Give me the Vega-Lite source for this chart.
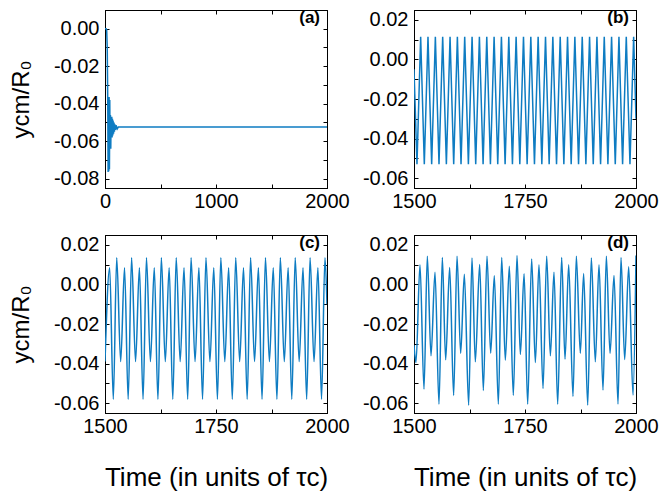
{
  "$schema": "https://vega.github.io/schema/vega-lite/v6.json",
  "padding": {"left": 8, "top": 8, "right": 5, "bottom": 5},
  "background": "white",
  "spacing": 21,
  "config": {
    "font": "Liberation Sans",
    "view": {"stroke": "black", "strokeWidth": 1},
    "axis": {
      "labelFont": "Liberation Sans",
      "labelFontSize": 20,
      "labelColor": "black",
      "tickColor": "black",
      "domainColor": "black",
      "tickSize": -4,
      "grid": false,
      "titleFont": "Liberation Sans",
      "titleFontWeight": "normal",
      "titleColor": "black",
      "labelFlush": false,
      "labelOverlap": false,
      "labelBound": false
    },
    "axisX": {"labelPadding": 7},
    "axisY": {"labelPadding": 10},
    "title": {"font": "Liberation Sans", "fontSize": 17, "fontWeight": "bold", "anchor": "end", "frame": "group", "offset": -17, "baseline": "alphabetic", "dx": -7, "color": "black"}
  },
  "datasets": {
    "a": [
      {"t": 0, "y": 0}, {"t": 10, "y": 0}, {"t": 15, "y": -0.0005}, {"t": 20, "y": -0.01}, {"t": 25, "y": -0.04},
      {"t": 28, "y": -0.0765}, {"t": 31, "y": -0.037}, {"t": 34, "y": -0.076}, {"t": 37, "y": -0.0365}, {"t": 40, "y": -0.075},
      {"t": 43, "y": -0.038}, {"t": 46, "y": -0.064}, {"t": 49, "y": -0.046}, {"t": 52, "y": -0.064}, {"t": 55, "y": -0.047},
      {"t": 58, "y": -0.058}, {"t": 61, "y": -0.047}, {"t": 64, "y": -0.058}, {"t": 67, "y": -0.048}, {"t": 70, "y": -0.057},
      {"t": 73, "y": -0.049}, {"t": 77, "y": -0.056}, {"t": 81, "y": -0.05}, {"t": 85, "y": -0.055}, {"t": 89, "y": -0.051},
      {"t": 94, "y": -0.054}, {"t": 100, "y": -0.0515}, {"t": 110, "y": -0.0535}, {"t": 120, "y": -0.0525}, {"t": 2000, "y": -0.0525}
    ],
    "b": [
      {"t": 1500, "y": -0.005}, {"t": 1506.7, "y": -0.053}, {"t": 1515.0, "y": 0.0115}, {"t": 1523.2, "y": -0.053},
      {"t": 1531.5, "y": 0.0115}, {"t": 1539.8, "y": -0.053}, {"t": 1548.1, "y": 0.0115}, {"t": 1556.3, "y": -0.053},
      {"t": 1564.6, "y": 0.0115}, {"t": 1572.9, "y": -0.053}, {"t": 1581.2, "y": 0.0115}, {"t": 1589.4, "y": -0.053},
      {"t": 1597.7, "y": 0.0115}, {"t": 1605.9, "y": -0.053}, {"t": 1614.2, "y": 0.0115}, {"t": 1622.5, "y": -0.053},
      {"t": 1630.8, "y": 0.0115}, {"t": 1639.0, "y": -0.053}, {"t": 1647.3, "y": 0.0115}, {"t": 1655.6, "y": -0.053},
      {"t": 1663.9, "y": 0.0115}, {"t": 1672.1, "y": -0.053}, {"t": 1680.4, "y": 0.0115}, {"t": 1688.6, "y": -0.053},
      {"t": 1696.9, "y": 0.0115}, {"t": 1705.2, "y": -0.053}, {"t": 1713.5, "y": 0.0115}, {"t": 1721.7, "y": -0.053},
      {"t": 1730.0, "y": 0.0115}, {"t": 1738.3, "y": -0.053}, {"t": 1746.6, "y": 0.0115}, {"t": 1754.8, "y": -0.053},
      {"t": 1763.1, "y": 0.0115}, {"t": 1771.3, "y": -0.053}, {"t": 1779.6, "y": 0.0115}, {"t": 1787.9, "y": -0.053},
      {"t": 1796.2, "y": 0.0115}, {"t": 1804.4, "y": -0.053}, {"t": 1812.7, "y": 0.0115}, {"t": 1821.0, "y": -0.053},
      {"t": 1829.3, "y": 0.0115}, {"t": 1837.5, "y": -0.053}, {"t": 1845.8, "y": 0.0115}, {"t": 1854.0, "y": -0.053},
      {"t": 1862.3, "y": 0.0115}, {"t": 1870.6, "y": -0.053}, {"t": 1878.9, "y": 0.0115}, {"t": 1887.1, "y": -0.053},
      {"t": 1895.4, "y": 0.0115}, {"t": 1903.7, "y": -0.053}, {"t": 1912.0, "y": 0.0115}, {"t": 1920.2, "y": -0.053},
      {"t": 1928.5, "y": 0.0115}, {"t": 1936.7, "y": -0.053}, {"t": 1945.0, "y": 0.0115}, {"t": 1953.3, "y": -0.053},
      {"t": 1961.6, "y": 0.0115}, {"t": 1969.8, "y": -0.053}, {"t": 1978.1, "y": 0.0115}, {"t": 1986.4, "y": -0.053},
      {"t": 1994.7, "y": 0.0115}, {"t": 2000, "y": -0.03}
    ],
    "c": [
      {"t": 1500, "y": -0.039}, {"t": 1510.5, "y": 0.0085}, {"t": 1518.7, "y": -0.058}, {"t": 1526.4, "y": 0.0135},
      {"t": 1535.3, "y": -0.039}, {"t": 1544.0, "y": 0.0085}, {"t": 1552.2, "y": -0.058}, {"t": 1559.9, "y": 0.0135},
      {"t": 1568.8, "y": -0.039}, {"t": 1577.5, "y": 0.0085}, {"t": 1585.7, "y": -0.058}, {"t": 1593.4, "y": 0.0135},
      {"t": 1602.3, "y": -0.039}, {"t": 1611.0, "y": 0.0085}, {"t": 1619.2, "y": -0.058}, {"t": 1626.9, "y": 0.0135},
      {"t": 1635.8, "y": -0.039}, {"t": 1644.5, "y": 0.0085}, {"t": 1652.7, "y": -0.058}, {"t": 1660.4, "y": 0.0135},
      {"t": 1669.3, "y": -0.039}, {"t": 1678.0, "y": 0.0085}, {"t": 1686.2, "y": -0.058}, {"t": 1693.9, "y": 0.0135},
      {"t": 1702.8, "y": -0.039}, {"t": 1711.5, "y": 0.0085}, {"t": 1719.7, "y": -0.058}, {"t": 1727.4, "y": 0.0135},
      {"t": 1736.3, "y": -0.039}, {"t": 1745.0, "y": 0.0085}, {"t": 1753.2, "y": -0.058}, {"t": 1760.9, "y": 0.0135},
      {"t": 1769.8, "y": -0.039}, {"t": 1778.5, "y": 0.0085}, {"t": 1786.7, "y": -0.058}, {"t": 1794.4, "y": 0.0135},
      {"t": 1803.3, "y": -0.039}, {"t": 1812.0, "y": 0.0085}, {"t": 1820.2, "y": -0.058}, {"t": 1827.9, "y": 0.0135},
      {"t": 1836.8, "y": -0.039}, {"t": 1845.5, "y": 0.0085}, {"t": 1853.7, "y": -0.058}, {"t": 1861.4, "y": 0.0135},
      {"t": 1870.3, "y": -0.039}, {"t": 1879.0, "y": 0.0085}, {"t": 1887.2, "y": -0.058}, {"t": 1894.9, "y": 0.0135},
      {"t": 1903.8, "y": -0.039}, {"t": 1912.5, "y": 0.0085}, {"t": 1920.7, "y": -0.058}, {"t": 1928.4, "y": 0.0135},
      {"t": 1937.3, "y": -0.039}, {"t": 1946.0, "y": 0.0085}, {"t": 1954.2, "y": -0.058}, {"t": 1961.9, "y": 0.0135},
      {"t": 1970.8, "y": -0.039}, {"t": 1979.5, "y": 0.0085}, {"t": 1987.7, "y": -0.058}, {"t": 1995.4, "y": 0.0135},
      {"t": 2000, "y": -0.01}
    ],
    "d": [
      {"t": 1500.0, "y": -0.0307}, {"t": 1504.5, "y": -0.0395}, {"t": 1513.5, "y": 0.0099}, {"t": 1522.5, "y": -0.0529},
      {"t": 1530.0, "y": 0.0143}, {"t": 1538.3, "y": -0.0361}, {"t": 1547.3, "y": 0.0062}, {"t": 1556.3, "y": -0.0605},
      {"t": 1563.8, "y": 0.0136}, {"t": 1571.3, "y": -0.0381}, {"t": 1580.3, "y": 0.0086}, {"t": 1589.3, "y": -0.0561},
      {"t": 1596.9, "y": 0.0143}, {"t": 1605.1, "y": -0.0349}, {"t": 1613.4, "y": 0.0052}, {"t": 1623.1, "y": -0.061},
      {"t": 1630.6, "y": 0.0134}, {"t": 1638.1, "y": -0.0391}, {"t": 1647.9, "y": 0.0101}, {"t": 1656.2, "y": -0.0536},
      {"t": 1664.4, "y": 0.0143}, {"t": 1672.7, "y": -0.0348}, {"t": 1680.9, "y": 0.0044}, {"t": 1690.0, "y": -0.0605},
      {"t": 1697.5, "y": 0.0136}, {"t": 1705.7, "y": -0.0383}, {"t": 1714.7, "y": 0.0092}, {"t": 1723.7, "y": -0.0561},
      {"t": 1732.0, "y": 0.0146}, {"t": 1739.5, "y": -0.0354}, {"t": 1748.0, "y": 0.0054}, {"t": 1756.0, "y": -0.0605},
      {"t": 1765.0, "y": 0.0129}, {"t": 1773.3, "y": -0.0395}, {"t": 1781.5, "y": 0.0099}, {"t": 1790.6, "y": -0.0526},
      {"t": 1798.8, "y": 0.0143}, {"t": 1807.1, "y": -0.0361}, {"t": 1815.3, "y": 0.0062}, {"t": 1823.6, "y": -0.0605},
      {"t": 1832.6, "y": 0.0136}, {"t": 1840.1, "y": -0.0378}, {"t": 1848.4, "y": 0.0099}, {"t": 1858.1, "y": -0.0566},
      {"t": 1865.6, "y": 0.0143}, {"t": 1874.6, "y": -0.0348}, {"t": 1882.1, "y": 0.0055}, {"t": 1891.2, "y": -0.061},
      {"t": 1899.4, "y": 0.0134}, {"t": 1908.4, "y": -0.0391}, {"t": 1916.7, "y": 0.0099}, {"t": 1925.7, "y": -0.0534},
      {"t": 1933.2, "y": 0.0143}, {"t": 1941.5, "y": -0.0349}, {"t": 1950.5, "y": 0.0045}, {"t": 1959.5, "y": -0.0605},
      {"t": 1966.2, "y": 0.0136}, {"t": 1974.5, "y": -0.038}, {"t": 1983.5, "y": 0.0089}, {"t": 1993.3, "y": -0.0559},
      {"t": 2000.0, "y": 0.0146}
    ]
  },
  "vconcat": [
    {
      "spacing": 11,
      "hconcat": [
        {
          "width": 222, "height": 178,
          "data": {"name": "a"},
          "title": {"text": "(a)"},
          "resolve": {"axis": {"x": "independent", "y": "independent"}},
          "layer": [
            {
              "mark": {"type": "line", "color": "#0e7cc2", "strokeWidth": 1.5, "clip": true},
              "encoding": {
                "x": {"field": "t", "type": "quantitative", "scale": {"domain": [0, 2000], "nice": false, "zero": false},
                      "axis": {"orient": "bottom", "title": null, "values": [0, 500, 1000, 1500, 2000], "format": "d", "labelExpr": "datum.value % 1000 == 0 ? datum.label : ''"}},
                "y": {"field": "y", "type": "quantitative", "scale": {"domain": [-0.085, 0.01], "nice": false, "zero": false},
                      "axis": {"orient": "left", "title": "ycm/R₀", "titleFontSize": 24, "titlePadding": 20, "values": [-0.08, -0.07, -0.06, -0.05, -0.04, -0.03, -0.02, -0.01, 0], "labelExpr": "round(datum.value*1000) % 20 == 0 ? replace(format(datum.value, '.2f'), '−', '-') : ''"}}
              }
            },
            {
              "mark": {"type": "line", "strokeOpacity": 0},
              "encoding": {
                "x": {"field": "t", "type": "quantitative", "axis": {"orient": "top", "title": null, "labels": false, "values": [0, 500, 1000, 1500, 2000]}},
                "y": {"field": "y", "type": "quantitative", "axis": {"orient": "right", "title": null, "labels": false, "values": [-0.08, -0.07, -0.06, -0.05, -0.04, -0.03, -0.02, -0.01, 0]}}
              }
            }
          ]
        },
        {
          "width": 222, "height": 178,
          "data": {"name": "b"},
          "title": {"text": "(b)"},
          "resolve": {"axis": {"x": "independent", "y": "independent"}},
          "layer": [
            {
              "mark": {"type": "line", "color": "#0e7cc2", "strokeWidth": 1.5, "clip": true},
              "encoding": {
                "x": {"field": "t", "type": "quantitative", "scale": {"domain": [1500, 2000], "nice": false, "zero": false},
                      "axis": {"orient": "bottom", "title": null, "values": [1500, 1625, 1750, 1875, 2000], "format": "d", "labelExpr": "datum.value % 250 == 0 ? datum.label : ''"}},
                "y": {"field": "y", "type": "quantitative", "scale": {"domain": [-0.065, 0.025], "nice": false, "zero": false},
                      "axis": {"orient": "left", "title": null, "values": [-0.06, -0.05, -0.04, -0.03, -0.02, -0.01, 0, 0.01, 0.02], "labelExpr": "round(datum.value*1000) % 20 == 0 ? replace(format(datum.value, '.2f'), '−', '-') : ''"}}
              }
            },
            {
              "mark": {"type": "line", "strokeOpacity": 0},
              "encoding": {
                "x": {"field": "t", "type": "quantitative", "axis": {"orient": "top", "title": null, "labels": false, "values": [1500, 1625, 1750, 1875, 2000]}},
                "y": {"field": "y", "type": "quantitative", "axis": {"orient": "right", "title": null, "labels": false, "values": [-0.06, -0.05, -0.04, -0.03, -0.02, -0.01, 0, 0.01, 0.02]}}
              }
            }
          ]
        }
      ]
    },
    {
      "spacing": 11,
      "hconcat": [
        {
          "width": 222, "height": 178,
          "data": {"name": "c"},
          "title": {"text": "(c)"},
          "resolve": {"axis": {"x": "independent", "y": "independent"}},
          "layer": [
            {
              "mark": {"type": "line", "color": "#0e7cc2", "strokeWidth": 1.5, "clip": true, "interpolate": "monotone"},
              "encoding": {
                "x": {"field": "t", "type": "quantitative", "scale": {"domain": [1500, 2000], "nice": false, "zero": false},
                      "axis": {"orient": "bottom", "title": "Time (in units of τc)", "titleFontSize": 26, "titlePadding": 28, "values": [1500, 1625, 1750, 1875, 2000], "format": "d", "labelExpr": "datum.value % 250 == 0 ? datum.label : ''"}},
                "y": {"field": "y", "type": "quantitative", "scale": {"domain": [-0.065, 0.025], "nice": false, "zero": false},
                      "axis": {"orient": "left", "title": "ycm/R₀", "titleFontSize": 24, "titlePadding": 20, "values": [-0.06, -0.05, -0.04, -0.03, -0.02, -0.01, 0, 0.01, 0.02], "labelExpr": "round(datum.value*1000) % 20 == 0 ? replace(format(datum.value, '.2f'), '−', '-') : ''"}}
              }
            },
            {
              "mark": {"type": "line", "strokeOpacity": 0},
              "encoding": {
                "x": {"field": "t", "type": "quantitative", "axis": {"orient": "top", "title": null, "labels": false, "values": [1500, 1625, 1750, 1875, 2000]}},
                "y": {"field": "y", "type": "quantitative", "axis": {"orient": "right", "title": null, "labels": false, "values": [-0.06, -0.05, -0.04, -0.03, -0.02, -0.01, 0, 0.01, 0.02]}}
              }
            }
          ]
        },
        {
          "width": 222, "height": 178,
          "data": {"name": "d"},
          "title": {"text": "(d)"},
          "resolve": {"axis": {"x": "independent", "y": "independent"}},
          "layer": [
            {
              "mark": {"type": "line", "color": "#0e7cc2", "strokeWidth": 1.5, "clip": true, "interpolate": "monotone"},
              "encoding": {
                "x": {"field": "t", "type": "quantitative", "scale": {"domain": [1500, 2000], "nice": false, "zero": false},
                      "axis": {"orient": "bottom", "title": "Time (in units of τc)", "titleFontSize": 26, "titlePadding": 28, "values": [1500, 1625, 1750, 1875, 2000], "format": "d", "labelExpr": "datum.value % 250 == 0 ? datum.label : ''"}},
                "y": {"field": "y", "type": "quantitative", "scale": {"domain": [-0.065, 0.025], "nice": false, "zero": false},
                      "axis": {"orient": "left", "title": null, "values": [-0.06, -0.05, -0.04, -0.03, -0.02, -0.01, 0, 0.01, 0.02], "labelExpr": "round(datum.value*1000) % 20 == 0 ? replace(format(datum.value, '.2f'), '−', '-') : ''"}}
              }
            },
            {
              "mark": {"type": "line", "strokeOpacity": 0},
              "encoding": {
                "x": {"field": "t", "type": "quantitative", "axis": {"orient": "top", "title": null, "labels": false, "values": [1500, 1625, 1750, 1875, 2000]}},
                "y": {"field": "y", "type": "quantitative", "axis": {"orient": "right", "title": null, "labels": false, "values": [-0.06, -0.05, -0.04, -0.03, -0.02, -0.01, 0, 0.01, 0.02]}}
              }
            }
          ]
        }
      ]
    }
  ]
}
